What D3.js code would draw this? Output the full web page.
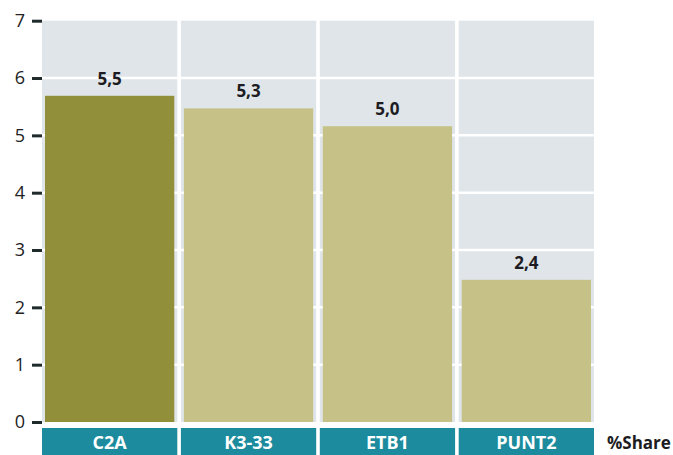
<!DOCTYPE html>
<html>
<head>
<meta charset="utf-8">
<script src="https://cdn.jsdelivr.net/npm/d3@7/dist/d3.min.js"></script>
<style>
  body { margin: 0; background: #fff; }
  svg { display: block; font-family: "Open Sans", sans-serif; }
</style>
</head>
<body>
<div id="chart"></div>
<script>
const categories = ["C2A", "K3-33", "ETB1", "PUNT2"];
const values = [5.69, 5.47, 5.16, 2.48];
const valueLabels = ["5,5", "5,3", "5,0", "2,4"];
const yTicks = [0, 1, 2, 3, 4, 5, 6, 7];
const unitLabel = "%Share";

const w = 673, h = 455;
const pad_left = 42, pad_right = 594, pad_top = 20.7, pad_bottom = 422;

const svg = d3.select('#chart').append('svg')
  .attr('width', w).attr('height', h);

const xScale = d3.scaleBand()
  .domain(categories)
  .range([pad_left, pad_right])
  .paddingInner(0.026)
  .paddingOuter(0);

const yScale = d3.scaleLinear()
  .domain([0, 7])
  .range([pad_bottom, pad_top]);

// band backgrounds
svg.selectAll('rect.bg')
  .data(categories)
  .enter().append('rect')
  .attr('class', 'bg')
  .attr('x', d => xScale(d))
  .attr('y', yScale(7))
  .attr('width', xScale.bandwidth())
  .attr('height', yScale(0) - yScale(7))
  .attr('fill', '#dfe5e8');

// gridlines
svg.selectAll('line.grid')
  .data(yTicks.filter(d => d > 0 && d < 7))
  .enter().append('line')
  .attr('class', 'grid')
  .attr('x1', pad_left).attr('x2', pad_right)
  .attr('y1', d => yScale(d)).attr('y2', d => yScale(d))
  .attr('stroke', '#fff').attr('stroke-width', 2.5);

// bars
svg.selectAll('rect.bar')
  .data(values)
  .enter().append('rect')
  .attr('class', 'bar')
  .attr('x', (d, i) => xScale(categories[i]) + 3)
  .attr('y', d => yScale(d))
  .attr('width', xScale.bandwidth() - 6)
  .attr('height', d => yScale(0) - yScale(d))
  .attr('fill', (d, i) => i === 0 ? '#928f3b' : '#c6c287');

// value labels
svg.selectAll('text.val')
  .data(valueLabels)
  .enter().append('text')
  .attr('class', 'val')
  .attr('x', (d, i) => xScale(categories[i]) + xScale.bandwidth() / 2)
  .attr('y', (d, i) => yScale(values[i]) - 11)
  .attr('text-anchor', 'middle')
  .attr('font-size', 17)
  .attr('font-weight', 'bold')
  .attr('fill', '#1c1c22')
  .text(d => d);

// y axis
const yAxis = d3.axisLeft(yScale)
  .tickValues(yTicks)
  .tickFormat(d3.format('d'))
  .tickSize(10)
  .tickPadding(7);

const ax = svg.append('g')
  .attr('transform', 'translate(' + pad_left + ',0)')
  .call(yAxis);
ax.select('.domain').remove();
ax.selectAll('.tick line').attr('stroke', '#1f2a2a').attr('stroke-width', 3);
ax.selectAll('.tick text')
  .attr('font-size', 18)
  .attr('font-family', '"Open Sans", sans-serif')
  .attr('fill', '#222');

// category boxes
svg.selectAll('rect.cat')
  .data(categories)
  .enter().append('rect')
  .attr('class', 'cat')
  .attr('x', d => xScale(d))
  .attr('y', 428)
  .attr('width', xScale.bandwidth())
  .attr('height', 27)
  .attr('fill', '#1b8b9d');

svg.selectAll('text.cat')
  .data(categories)
  .enter().append('text')
  .attr('class', 'cat')
  .attr('x', d => xScale(d) + xScale.bandwidth() / 2)
  .attr('y', 449)
  .attr('text-anchor', 'middle')
  .attr('font-size', 18)
  .attr('font-weight', 'bold')
  .attr('fill', '#fff')
  .text(d => d);

svg.append('text')
  .attr('x', 607)
  .attr('y', 449)
  .attr('font-size', 17)
  .attr('font-weight', 'bold')
  .attr('fill', '#1c1c22')
  .text(unitLabel);
</script>
</body>
</html>
